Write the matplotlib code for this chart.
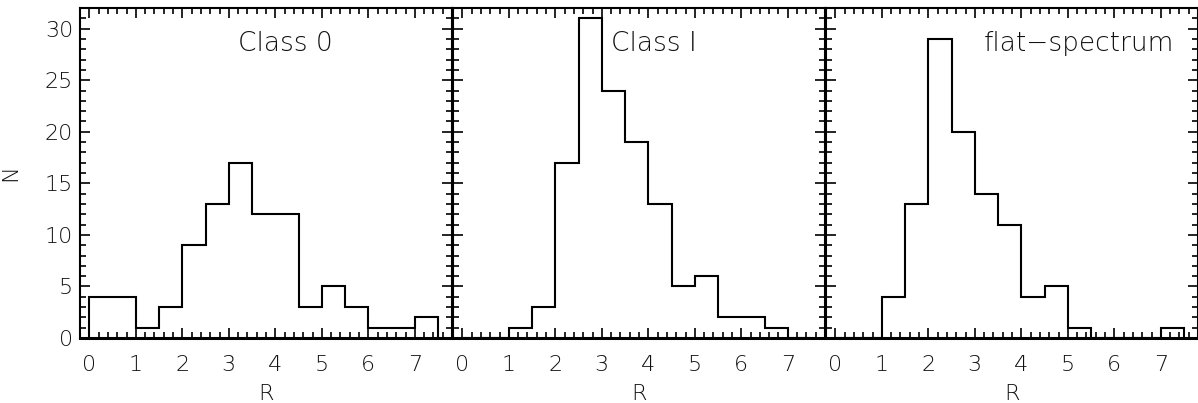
import matplotlib
matplotlib.use("Agg")
import matplotlib.pyplot as plt
from matplotlib.ticker import MultipleLocator

# ---- data ----
bin_edges = [0.0, 0.5, 1.0, 1.5, 2.0, 2.5, 3.0, 3.5, 4.0, 4.5, 5.0, 5.5, 6.0, 6.5, 7.0, 7.5]
class0_counts = [4, 4, 1, 3, 9, 13, 17, 12, 12, 3, 5, 3, 1, 1, 2]
class1_counts = [0, 0, 1, 3, 17, 31, 24, 19, 13, 5, 6, 2, 2, 1, 0]
flat_counts = [0, 0, 4, 13, 29, 20, 14, 11, 4, 5, 1, 0, 0, 0, 1]
panel_titles = ["Class 0", "Class I", "flat\u2212spectrum"]
x_ticks = [0, 1, 2, 3, 4, 5, 6, 7]
y_ticks = [0, 5, 10, 15, 20, 25, 30]

plt.rcParams['font.family'] = ['DejaVu Sans']
plt.rcParams['font.weight'] = 'light'
plt.rcParams['axes.labelweight'] = 'light'

W, H = 1198, 403
fig = plt.figure(figsize=(W / 100, H / 100), dpi=100)

left_px = [80, 453, 826]
width_px = 372
top_px, bottom_px = 8, 338

series = [class0_counts, class1_counts, flat_counts]
fs = 16
tc = '#111111'
for i, (counts, title) in enumerate(zip(series, panel_titles)):
    ax = fig.add_axes([left_px[i] / W, (H - bottom_px) / H,
                       width_px / W, (bottom_px - top_px) / H])
    ax.stairs(counts, bin_edges, baseline=0, color='black', linewidth=1.5)
    ax.set_xlim(-0.2, 7.8)
    ax.set_ylim(0, 32)
    ax.xaxis.set_major_locator(MultipleLocator(1))
    ax.xaxis.set_minor_locator(MultipleLocator(0.2))
    ax.yaxis.set_major_locator(MultipleLocator(5))
    ax.yaxis.set_minor_locator(MultipleLocator(1))
    ax.set_xticks(x_ticks)
    ax.tick_params(which='both', direction='in', top=True, right=True,
                   labelsize=fs, width=1.2, labelcolor=tc)
    ax.tick_params(axis='x', pad=12)
    ax.tick_params(axis='y', pad=5)
    ax.tick_params(which='major', length=7)
    ax.tick_params(which='minor', length=4)
    for sp in ax.spines.values():
        sp.set_linewidth(1.5)
    ax.spines['bottom'].set_linewidth(2.2)
    if i == 0:
        ax.set_yticks(y_ticks)
        ax.set_ylabel("N", fontsize=fs, labelpad=18, color=tc)
    else:
        ax.set_yticklabels([])
    ax.set_xlabel("R", fontsize=fs, labelpad=7, color=tc)
    ax.text(3.2, 28.6, title, fontsize=fs + 3, ha='left', va='center',
            color=tc)

fig.savefig("out.png", dpi=100)
